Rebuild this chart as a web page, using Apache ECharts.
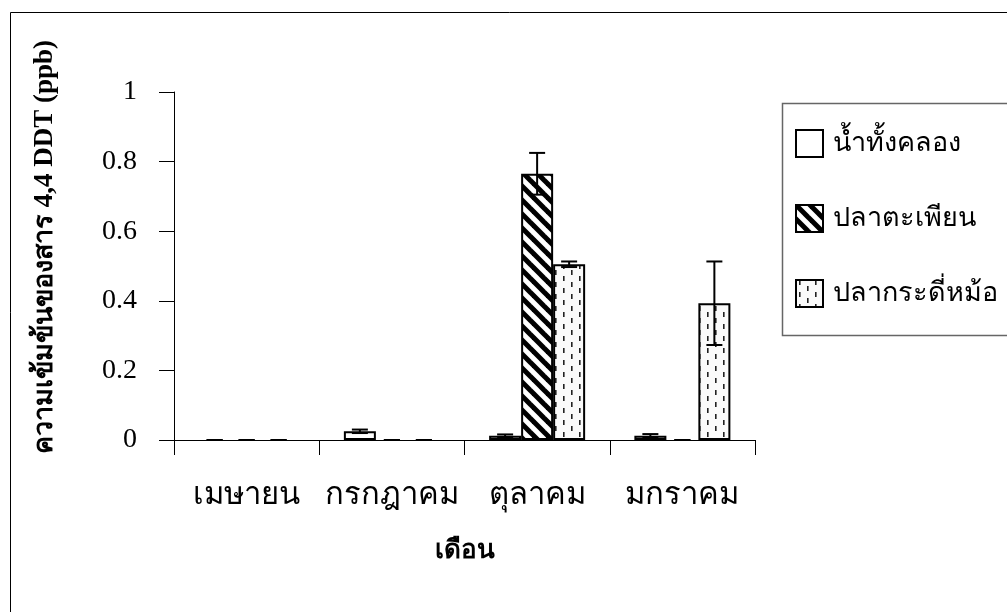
<!DOCTYPE html>
<html>
<head>
<meta charset="utf-8">
<script src="https://cdn.jsdelivr.net/npm/echarts@6/dist/echarts.min.js"></script>
<style>
  html, body { margin: 0; padding: 0; background: #fff; }
  #chart { width: 1007px; height: 612px; }
</style>
</head>
<body>
<div id="chart"></div>
<script>
// Monthly 4,4 DDT concentration (ppb) with standard-deviation error bars
const categories = ['เมษายน', 'กรกฎาคม', 'ตุลาคม', 'มกราคม'];
const seriesNames = ['น้ำทั้งคลอง', 'ปลาตะเพียน', 'ปลากระดี่หม้อ'];
const waterValues = [0, 0.025, 0.012, 0.012];
const waterErrors = [0, 0.005, 0.004, 0.005];
const barbValues = [0, 0, 0.765, 0];
const barbErrors = [0, 0, 0.06, 0];
const gouramiValues = [0, 0, 0.505, 0.393];
const gouramiErrors = [0, 0, 0.008, 0.12];
const yTicks = [0, 0.2, 0.4, 0.6, 0.8, 1];

const SERIF = '"Liberation Serif", "Times New Roman", serif';
const BAR_W = 32;

// Fill patterns: plain, diagonal hatch, staggered dashes
function hatchPattern() {
  const c = document.createElement('canvas');
  const s = 14;
  c.width = s; c.height = s;
  const g = c.getContext('2d');
  g.fillStyle = '#fff';
  g.fillRect(0, 0, s, s);
  g.strokeStyle = '#000';
  g.lineWidth = 5;
  for (let k = -1; k <= 1; k++) {
    g.beginPath();
    g.moveTo(k * s - 2, -2);
    g.lineTo(k * s + s + 2, s + 2);
    g.stroke();
  }
  return c;
}
function dashPattern() {
  const c = document.createElement('canvas');
  c.width = 16; c.height = 12;
  const g = c.getContext('2d');
  g.fillStyle = '#fafafa';
  g.fillRect(0, 0, 16, 12);
  g.fillStyle = '#222';
  g.fillRect(3, 0, 1.6, 5);
  g.fillRect(11, 6, 1.6, 5);
  return c;
}

const fills = [
  '#ffffff',
  { image: hatchPattern(), repeat: 'repeat' },
  { image: dashPattern(), repeat: 'repeat' }
];
const valueSets = [waterValues, barbValues, gouramiValues];
const errorSets = [waterErrors, barbErrors, gouramiErrors];

const barSeries = seriesNames.map((name, s) => ({
  name: name,
  type: 'bar',
  barWidth: BAR_W,
  barGap: '0%',
  itemStyle: { color: fills[s], borderColor: '#000', borderWidth: 2 },
  data: valueSets[s].map(v => v === 0 ? { value: 0, itemStyle: { borderWidth: 0 } } : v),
  z: 2
}));

const errorSeries = seriesNames.map((name, s) => ({
  name: name + ' SD',
  type: 'custom',
  z: 5,
  silent: true,
  data: valueSets[s].map((v, i) => [i, v, errorSets[s][i]]),
  renderItem: function (params, api) {
    const i = api.value(0), v = api.value(1), e = api.value(2);
    const x = api.coord([i, v])[0] + (s - 1) * BAR_W;
    const yHi = api.coord([i, v + e])[1];
    const yLo = api.coord([i, v - e])[1];
    const cap = 8;
    const st = { stroke: '#000', lineWidth: 2 };
    return {
      type: 'group',
      children: [
        { type: 'line', shape: { x1: x, y1: yHi, x2: x, y2: yLo }, style: st },
        { type: 'line', shape: { x1: x - cap, y1: yHi, x2: x + cap, y2: yHi }, style: st },
        { type: 'line', shape: { x1: x - cap, y1: yLo, x2: x + cap, y2: yLo }, style: st }
      ]
    };
  }
}));

const chart = echarts.init(document.getElementById('chart'), null, { renderer: 'canvas' });
chart.setOption({
  animation: false,
  backgroundColor: '#fff',
  graphic: [
    { type: 'rect', shape: { x: 10.5, y: 12.5, width: 1100, height: 700 },
      style: { fill: 'none', stroke: '#000', lineWidth: 1 }, z: 0 },
    { type: 'rect', shape: { x: 782.5, y: 103.5, width: 400, height: 232 },
      style: { fill: '#fff', stroke: '#666', lineWidth: 1.5 }, z: 1 }
  ],
  grid: { left: 174, right: 252, top: 92, bottom: 172 },
  legend: {
    data: seriesNames,
    orient: 'vertical',
    icon: 'rect',
    left: 795,
    top: 129,
    itemWidth: 27,
    itemHeight: 27,
    itemGap: 46,
    padding: 0,
    textStyle: { fontFamily: SERIF, fontSize: 27, color: '#000', padding: [0, 0, 0, 5] },
    z: 3
  },
  xAxis: {
    type: 'category',
    data: categories,
    name: 'เดือน',
    nameLocation: 'middle',
    nameGap: 98,
    nameTextStyle: { fontFamily: SERIF, fontSize: 26, fontWeight: 'bold', color: '#000' },
    axisLine: { lineStyle: { color: '#000', width: 1 } },
    axisTick: { show: true, length: 15, lineStyle: { color: '#000' } },
    axisLabel: { interval: 0, fontFamily: SERIF, fontSize: 31, color: '#000', margin: 40 }
  },
  yAxis: {
    type: 'value',
    min: 0,
    max: 1,
    interval: 0.2,
    name: 'ความเข้มข้นของสาร 4,4 DDT (ppb)',
    nameLocation: 'middle',
    nameGap: 115,
    nameTextStyle: {
      fontFamily: SERIF, fontSize: 27, fontWeight: 'bold', color: '#000',
      padding: [0, 0, 0, 38]
    },
    splitLine: { show: false },
    axisLine: { show: true, lineStyle: { color: '#000', width: 1 } },
    axisTick: { show: true, length: 15, lineStyle: { color: '#000' } },
    axisLabel: {
      fontFamily: SERIF, fontSize: 28, color: '#000', margin: 37,
      formatter: v => {
        const t = yTicks.find(k => Math.abs(k - v) < 1e-9);
        return t === undefined ? '' : String(t);
      }
    }
  },
  series: barSeries.concat(errorSeries)
});
</script>
</body>
</html>
